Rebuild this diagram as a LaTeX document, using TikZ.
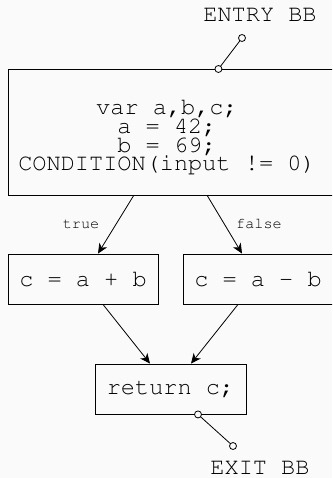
\documentclass[tikz,border=0pt]{standalone}
\usepackage[T1]{fontenc}
\usepackage{courier}
\usetikzlibrary{arrows.meta,calc}
\definecolor{paper}{RGB}{250,250,250}
\tikzset{
  x=1pt, y=-1pt,
  blk/.style={draw, line width=0.9pt, rectangle, inner sep=0pt},
  code/.style={font=\ttfamily\fontsize{23.6}{17.2}\selectfont, align=center, inner sep=0pt},
  lbl/.style={font=\ttfamily\fontsize{15.2}{16}\selectfont, inner sep=0pt},
  flow/.style={line width=0.8pt, -{Stealth[length=10pt,width=9pt,inset=3pt]}},
  port/.style={circle, draw, line width=0.8pt, fill=paper, minimum size=7pt, inner sep=0pt},
  tie/.style={line width=0.8pt}
}
\begin{document}
\begin{tikzpicture}
  \fill[paper] (0,0) rectangle (332,478);
  \useasboundingbox (0,0) rectangle (332,478);
  \clip (0,0) rectangle (332,478);

  % basic blocks
  \node[blk, minimum width=332pt, minimum height=126pt, anchor=north west] (cond) at (8,69) {};
  \node[code] (condtxt) at (167,137) {var a,b,c;\\a = 42;\\b = 69;\\CONDITION(input != 0)};
  \node[blk, code, minimum width=150pt, minimum height=50pt] (add) at (83,279) {c = a + b};
  \node[blk, code, minimum width=150pt, minimum height=50pt] (sub) at (258,279) {c = a - b};
  \node[blk, code, minimum width=151pt, minimum height=50pt] (ret) at (170.5,389) {return c;};

  % branches
  \draw[flow] ([xshift=-41pt]cond.south) -- ([xshift=15pt]add.north);
  \draw[flow] ([xshift=33pt]cond.south) -- ([xshift=-16pt]sub.north);
  \draw[flow] ([xshift=20pt]add.south) -- ([xshift=-20.5pt]ret.north);
  \draw[flow] ([xshift=-20pt]sub.south) -- ([xshift=20.5pt]ret.north);
  \node[lbl] (ltrue) at (81,224) {true};
  \node[lbl] (lfalse) at (259,224) {false};

  % entry and exit stubs
  \coordinate (inpt) at ([xshift=44pt]cond.north);
  \node[port] (inend) at (242,38) {};
  \draw[tie] (inpt) -- (inend);
  \node[port] (inport) at (inpt) {};
  \node[code] (entry) at (260,15) {ENTRY BB};

  \coordinate (outpt) at ([xshift=27.5pt]ret.south);
  \node[port] (outend) at (233,446) {};
  \draw[tie] (outpt) -- (outend);
  \node[port] (outport) at (outpt) {};
  \node[code] (exit) at (260,468) {EXIT BB};
\end{tikzpicture}
\end{document}
